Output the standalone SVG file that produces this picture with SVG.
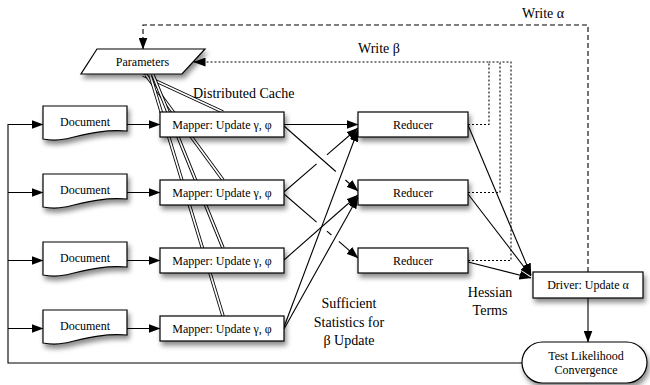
<svg xmlns="http://www.w3.org/2000/svg" width="650" height="385" viewBox="0 0 650 385">
<defs>
<filter id="sh" x="-20%" y="-30%" width="150%" height="190%">
<feDropShadow dx="2" dy="4" stdDeviation="2.5" flood-color="#000" flood-opacity="0.45"/>
</filter>
<marker id="ah" markerUnits="userSpaceOnUse" viewBox="0 0 12 9" markerWidth="12" markerHeight="9" refX="11.5" refY="4.5" orient="auto">
<path d="M0,0 L12,4.5 L0,9 z" fill="#000"/>
</marker>
</defs>
<style>
.box{fill:#fff;stroke:#000;stroke-width:1.2;filter:url(#sh)}
.t{font-family:"Liberation Serif","Times New Roman",serif;font-size:12px;text-anchor:middle;fill:#000}
.lbl{font-family:"Liberation Serif","Times New Roman",serif;font-size:14px;fill:#000}
.mid{text-anchor:middle}
.ln{fill:none;stroke:#000;stroke-width:1.1}
.arr{marker-end:url(#ah)}
.dash{stroke-dasharray:5,3}
.dot{stroke-dasharray:2,2}
.dbo{fill:none;stroke:#000;stroke-width:3.4}
.dbi{fill:none;stroke:#fff;stroke-width:1.7}
</style>
<rect width="650" height="385" fill="#fff"/>

<g id="connectors">
  <!-- distributed cache double lines -->
  <path class="dbo" d="M143,75 L223,112"/><path class="dbi" d="M143,75 L223,112"/>
  <path class="dbo" d="M146,75 L223,180"/><path class="dbi" d="M146,75 L223,180"/>
  <path class="dbo" d="M150,75 L223,316"/><path class="dbi" d="M150,75 L223,316"/>
  <path class="dbo" d="M153,75 L223,248"/><path class="dbi" d="M153,75 L223,248"/>

  <!-- feedback loop -->
  <path class="ln" d="M522,363 H8 V124"/>
  <path class="ln arr" d="M8,124.5 H43"/>
  <path class="ln arr" d="M8,192.5 H43"/>
  <path class="ln arr" d="M8,260.5 H43"/>
  <path class="ln arr" d="M8,328.5 H43"/>

  <!-- document to mapper -->
  <path class="ln arr" d="M127,124.5 H160"/>
  <path class="ln arr" d="M127,192.5 H160"/>
  <path class="ln arr" d="M127,260.5 H160"/>
  <path class="ln arr" d="M127,328.5 H160"/>

  <!-- mapper to reducer -->
  <path class="ln arr" d="M284,124.5 H358"/>
  <path class="ln" d="M284,126 L335.8,171.5"/>
  <path class="ln arr" d="M345.4,180 L358,191"/>
  <path class="ln" d="M284,192 L316.6,163.8"/>
  <path class="ln arr" d="M326.9,154.9 L358,128"/>
  <path class="ln" d="M284,194 L316.6,222.2"/>
  <path class="ln" d="M326.9,231.1 L331.4,235"/>
  <path class="ln arr" d="M338.8,241.4 L358,258"/>
  <path class="ln arr" d="M284,260 L358,195"/>
  <path class="ln arr" d="M284,327 L358,130"/>
  <path class="ln arr" d="M284,329 L358,197"/>

  <!-- reducer to driver -->
  <path class="ln arr" d="M468,125 L531,275"/>
  <path class="ln arr" d="M468,194 L531,276"/>
  <path class="ln arr" d="M468,262 L531,278"/>

  <!-- driver to test -->
  <path class="ln arr" d="M588,298 V342"/>

  <!-- write beta (dotted) -->
  <path class="ln dot" d="M468,124.5 H489 V62 H200"/>
  <path class="ln dot" d="M468,192.5 H500 V62 H489"/>
  <path class="ln dot" d="M468,260.5 H511 V62 H500"/>
  <path class="ln arr" d="M200,62 H194"/>

  <!-- write alpha (dashed) -->
  <path class="ln dash" d="M588,272 V25 H143 V40"/>
  <path class="ln arr" d="M143,40 V49"/>

  <text class="lbl" x="193" y="98">Distributed Cache</text>
  <text class="lbl" x="522" y="18">Write α</text>
  <text class="lbl" x="358" y="53">Write β</text>
  <text class="lbl mid" x="349" y="308">Sufficient</text>
  <text class="lbl mid" x="349" y="326.5">Statistics for</text>
  <text class="lbl mid" x="349" y="345">β Update</text>
  <text class="lbl mid" x="490" y="297">Hessian</text>
  <text class="lbl mid" x="490" y="315">Terms</text>
</g>

<g id="parameters">
  <polygon class="box" points="97,49 205,49 182,74 81,74"/>
  <text class="t" x="142.5" y="66">Parameters</text>
</g>

<g id="document1">
  <path class="box" d="M43,106 H127 V131 C100,129 80,136 65,139 C55,141 48,140 43,139 Z"/>
  <text class="t" x="85" y="126">Document</text>
</g>
<g id="document2">
  <path class="box" d="M43,174 H127 V199 C100,197 80,204 65,207 C55,209 48,208 43,207 Z"/>
  <text class="t" x="85" y="194">Document</text>
</g>
<g id="document3">
  <path class="box" d="M43,242 H127 V267 C100,265 80,272 65,275 C55,277 48,276 43,275 Z"/>
  <text class="t" x="85" y="262">Document</text>
</g>
<g id="document4">
  <path class="box" d="M43,310 H127 V335 C100,333 80,340 65,343 C55,345 48,344 43,343 Z"/>
  <text class="t" x="85" y="330">Document</text>
</g>

<g id="mapper1">
  <rect class="box" x="160" y="112" width="124" height="25"/>
  <text class="t" x="222" y="128.5">Mapper: Update γ, φ</text>
</g>
<g id="mapper2">
  <rect class="box" x="160" y="180" width="124" height="25"/>
  <text class="t" x="222" y="196.5">Mapper: Update γ, φ</text>
</g>
<g id="mapper3">
  <rect class="box" x="160" y="248" width="124" height="25"/>
  <text class="t" x="222" y="264.5">Mapper: Update γ, φ</text>
</g>
<g id="mapper4">
  <rect class="box" x="160" y="316" width="124" height="25"/>
  <text class="t" x="222" y="332.5">Mapper: Update γ, φ</text>
</g>

<g id="reducer1">
  <rect class="box" x="358" y="112" width="110" height="25"/>
  <text class="t" x="413" y="128.5">Reducer</text>
</g>
<g id="reducer2">
  <rect class="box" x="358" y="180" width="110" height="25"/>
  <text class="t" x="413" y="196.5">Reducer</text>
</g>
<g id="reducer3">
  <rect class="box" x="358" y="248" width="110" height="25"/>
  <text class="t" x="413" y="264.5">Reducer</text>
</g>

<g id="driver">
  <rect class="box" x="533" y="272" width="110" height="26"/>
  <text class="t" x="588" y="289">Driver: Update α</text>
</g>

<g id="test">
  <rect class="box" x="522" y="342" width="125" height="41" rx="20.5" ry="20.5"/>
  <text class="t" x="586" y="360">Test Likelihood</text>
  <text class="t" x="586" y="374">Convergence</text>
</g>
</svg>
